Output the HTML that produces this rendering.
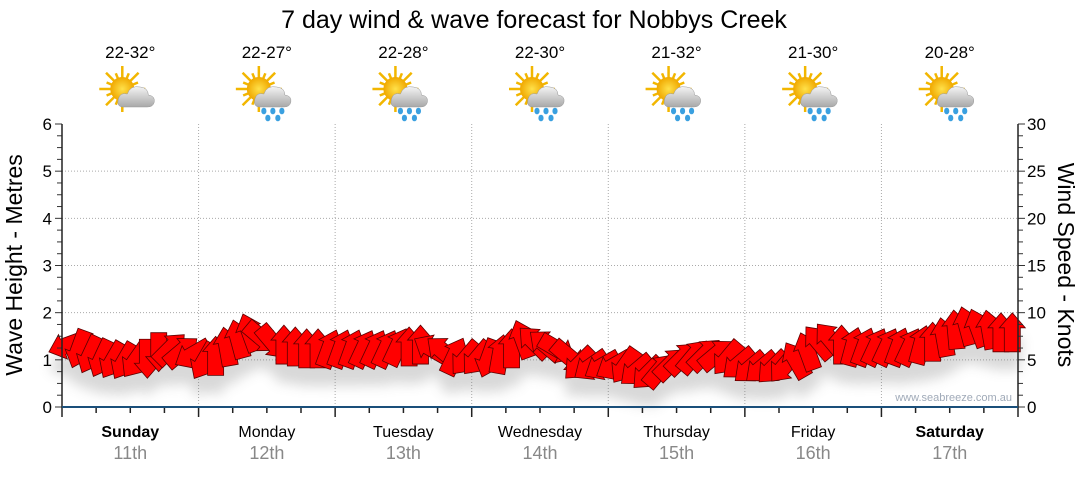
<!DOCTYPE html>
<html><head><meta charset="utf-8"><style>
body{margin:0;background:#fff;font-family:"Liberation Sans",sans-serif}
svg text{font-family:"Liberation Sans",sans-serif}
</style></head><body>
<svg id="c" width="1080" height="475" viewBox="0 0 1080 475">
<defs>
<filter id="sh" x="-50%" y="-50%" width="200%" height="250%"><feGaussianBlur stdDeviation="6"/></filter>
<radialGradient id="sun" cx="50%" cy="50%" r="50%"><stop offset="0" stop-color="#ffe14a"/><stop offset="1" stop-color="#f0a800"/></radialGradient>
<linearGradient id="cl" x1="0" y1="0" x2="0" y2="1"><stop offset="0" stop-color="#f4f4f4"/><stop offset="1" stop-color="#a8a8a8"/></linearGradient>
</defs>
<text x="534" y="28" font-size="25" text-anchor="middle" fill="#000">7 day wind &amp; wave forecast for Nobbys Creek</text>
<g id="grid"></g>
<g id="shadow" filter="url(#sh)" opacity="0.25"></g>
<g id="arrows"></g>
<g id="axes"></g>
<g id="icons"></g>
<text transform="translate(22,265) rotate(-90)" font-size="23" text-anchor="middle">Wave Height - Metres</text>
<text transform="translate(1058,265) rotate(90)" font-size="23" text-anchor="middle">Wind Speed - Knots</text>
<text x="1012" y="401" font-size="11" fill="#a0aab8" text-anchor="end">www.seabreeze.com.au</text>
</svg>
<script>
const days=["Sunday","Monday","Tuesday","Wednesday","Thursday","Friday","Saturday"];
const dates=["11th","12th","13th","14th","15th","16th","17th"];
const boldDays=[true,false,false,false,false,false,true];
const temps=["22-32°","22-27°","22-28°","22-30°","21-32°","21-30°","20-28°"];
const rain=[false,true,true,true,true,true,true];
const waveTicks=[0,1,2,3,4,5,6];
const windTicks=[0,5,10,15,20,25,30];
const windSpeed=[7.2,6.8,6.2,5.8,5.6,5.5,5.6,5.8,6.5,6.8,6.5,6.2,
5.5,6.0,7.0,7.8,8.5,8.0,7.5,7.2,7.0,6.8,6.8,6.8,
6.8,6.8,6.8,6.8,6.8,7.0,7.0,7.2,6.8,6.5,6.0,5.8,
5.8,5.8,6.2,6.8,7.8,7.5,7.2,6.8,6.0,5.2,5.0,5.0,
5.0,5.0,4.5,4.2,4.5,5.2,5.8,6.0,6.2,6.2,5.8,5.2,
4.8,4.8,4.8,5.0,5.6,6.5,7.5,7.8,7.2,7.0,7.0,7.0,
7.0,7.0,7.0,7.2,7.5,8.0,8.8,9.2,9.0,8.8,8.5,8.5];
const windDir=[250,200,205,205,210,210,215,180,180,45,50,240,
210,0,-10,-15,-20,130,140,0,0,0,0,20,
20,20,25,25,25,25,0,0,-60,-50,25,220,
220,200,10,0,-20,-45,-50,120,130,225,235,240,
240,215,230,225,40,45,45,40,45,50,220,230,
230,230,225,220,-30,-20,-40,-40,0,15,20,25,
25,20,25,15,0,-10,-5,-15,-20,-10,0,0];
const NS="http://www.w3.org/2000/svg";
const X0=62,X1=1018,Y0=407,Y1=124;
const dayW=(X1-X0)/7;
const yW=m=>Y0-(m/6)*(Y0-Y1);
const yK=k=>Y0-(k/30)*(Y0-Y1);
const xT=i=>X0+(i+0.5)*(X1-X0)/windSpeed.length;
function mk(tag,at,parent){const e=document.createElementNS(NS,tag);for(const k in at)e.setAttribute(k,at[k]);parent.appendChild(e);return e;}
const grid=document.getElementById('grid'),axes=document.getElementById('axes');
waveTicks.forEach(t=>{if(t>0&&t<6){const l=mk('line',{x1:X0,x2:X1,y1:yW(t),y2:yW(t),stroke:'#aaa','stroke-dasharray':'1,2'},grid);

}
const tx=mk('text',{x:X0-10,y:yW(t)+6,'font-size':17,'text-anchor':'end'},axes);tx.textContent=t;

});
windTicks.forEach(t=>{const tx=mk('text',{x:X1+9,y:yK(t)+6,'font-size':17},axes);tx.textContent=t;

});
for(let i=0;i<=24;i++){const y=yW(i/4);const len=i%4==0?7:5;
mk('line',{x1:X0-len,x2:X0,y1:y,y2:y,stroke:'#333'},axes);
mk('line',{x1:X1,x2:X1+len,y1:y,y2:y,stroke:'#333'},axes);}
for(let d=1;d<7;d++){const x=X0+d*dayW;const l=mk('line',{x1:x,x2:x,y1:Y1,y2:Y0,stroke:'#aaa','stroke-dasharray':'1,2'},grid);

}
for(let i=0;i<=28;i++){const x=X0+i*dayW/4;mk('line',{x1:x,x2:x,y1:Y0,y2:Y0+(i%4==0?10:6),stroke:'#222','stroke-width':1.5},axes);}
mk('line',{x1:X0,x2:X0,y1:Y1,y2:Y0,stroke:'#222','stroke-width':1.5},axes);
mk('line',{x1:X1,x2:X1,y1:Y1,y2:Y0,stroke:'#222','stroke-width':1.5},axes);
const ba=mk('line',{x1:X0,x2:X1,y1:Y0,y2:Y0,stroke:'#1a4f7a','stroke-width':2},axes);


const icons=document.getElementById('icons');
days.forEach((d,i)=>{const cx=X0+(i+0.5)*dayW;
const t1=mk('text',{x:cx,y:437,'font-size':16,'text-anchor':'middle','font-weight':boldDays[i]?'bold':'normal'},axes);t1.textContent=d;


const t2=mk('text',{x:cx,y:459,'font-size':18,'text-anchor':'middle',fill:'#888'},axes);t2.textContent=dates[i];


const t3=mk('text',{x:cx,y:58,'font-size':17,'text-anchor':'middle'},icons);t3.textContent=temps[i];


const g=mk('g',{transform:`translate(${cx},95)`},icons);


for(let r=0;r<16;r++){const a=r*Math.PI/8;const L=r%2?17:23;mk('line',{x1:-8,y1:-6,x2:-8+Math.cos(a)*L,y2:-6+Math.sin(a)*L,stroke:'#f2b600','stroke-width':2.5},g);}
mk('circle',{cx:-8,cy:-6,r:12,fill:'url(#sun)'},g);
mk('path',{d:'M-7,12 Q-14,12 -12,4 Q-10,-3 -3,-1 Q0,-10 10,-8 Q18,-7 18,0 Q25,1 24,7 Q23,12 17,12 Z',fill:'url(#cl)',stroke:'#999','stroke-width':0.5},g);
if(rain[i]){[[-3,16],[6,16],[15,16],[1,23],[11,23]].forEach(p=>mk('ellipse',{cx:p[0],cy:p[1],rx:2.6,ry:3.3,fill:'#3aa0e0'},g));}
});
const shadowG=document.getElementById('shadow'),arrG=document.getElementById('arrows');
const AP='M0,-20 L13,-5 L8,-5 L8,19 L-8,19 L-8,-5 L-13,-5 Z';
windSpeed.forEach((k,i)=>{const x=xT(i),y=yK(k)+6;
mk('path',{d:AP,fill:'#666',transform:`translate(${x},${y+18}) rotate(${windDir[i]})`},shadowG);
const a=mk('path',{d:AP,fill:'#ff0000',stroke:'#5a0000','stroke-width':0.8,'stroke-linejoin':'miter',transform:`translate(${x},${y}) rotate(${windDir[i]})`},arrG);

});
</script>
</body></html>
